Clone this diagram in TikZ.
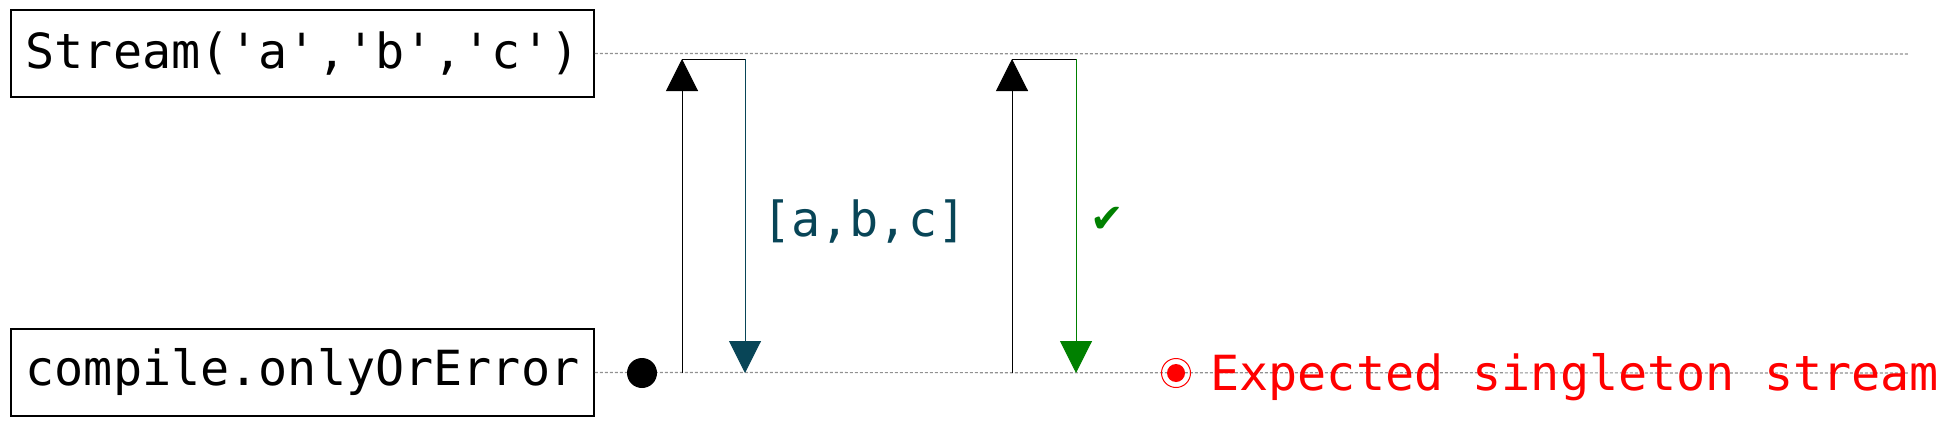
\documentclass[tikz,border=0pt]{standalone}
\usepackage{fontspec}
\setmonofont{DejaVu Sans Mono}
\newfontfamily\symfont{DejaVu Sans}
\usetikzlibrary{arrows.meta}
\definecolor{msgteal}{RGB}{8,69,87}
\definecolor{okgreen}{RGB}{0,128,0}
\definecolor{lifegray}{RGB}{145,145,145}
\begin{document}
\begin{tikzpicture}[x=0.5pt, y=-0.5pt,
  every node/.style={inner sep=0pt, font=\ttfamily\fontsize{24.2}{28}\selectfont},
  opbox/.style={draw, line width=0.75pt, minimum width=291.5pt, minimum height=43.5pt},
  lifeline/.style={lifegray, line width=0.6pt, dash pattern=on 1.5pt off 1pt},
  msgline/.style={line width=0.5pt},
  msgarrow/.style={line width=0.5pt, -{Triangle[width=16pt,length=16pt]}},
  startdot/.style={circle, fill=black, minimum size=15pt},
  errring/.style={circle, draw=red, line width=0.5pt, minimum size=14.5pt},
  errdot/.style={circle, fill=red, minimum size=9pt}]
\useasboundingbox (0,0) rectangle (1944,428);
\node[opbox] (Src) at (302.5,53.5) {Stream('a','b','c')};
\node[opbox] (Op) at (302.5,372.5) {compile.onlyOrError};
\coordinate (SrcEnd) at (1909,54);
\coordinate (OpEnd) at (1909,373);
\draw[lifeline] (Src.east) -- (SrcEnd);
\draw[lifeline] (Op.east) -- (OpEnd);
\node[startdot] (Start) at (642,373) {};
% first pull: [a,b,c]
\coordinate (Req1) at (682,373);
\coordinate (Req1Top) at (682,59);
\coordinate (Res1Top) at (745,59);
\coordinate (Res1) at (745,373);
\draw[msgarrow] (Req1) -- (Req1Top);
\draw[msgline] (Req1Top) -- (Res1Top);
\draw[msgarrow, msgteal] (Res1Top) -- (Res1);
\node[text=msgteal, anchor=base west] (Res1Label) at (762,236) {[a,b,c]};
% second pull: done
\coordinate (Req2) at (1012,373);
\coordinate (Req2Top) at (1012,59);
\coordinate (Res2Top) at (1076,59);
\coordinate (Res2) at (1076,373);
\draw[msgarrow] (Req2) -- (Req2Top);
\draw[msgline] (Req2Top) -- (Res2Top);
\draw[msgarrow, okgreen] (Res2Top) -- (Res2);
\node[text=okgreen, font=\symfont\fontsize{20}{22}\selectfont] (Res2Label) at (1107,220) {✔};
% error
\node[errring] (Err) at (1176,373) {};
\node[errdot] (ErrDot) at (Err) {};
\node[text=red, anchor=base west] (ErrText) at (1210,390) {Expected singleton stream};
\end{tikzpicture}
\end{document}
